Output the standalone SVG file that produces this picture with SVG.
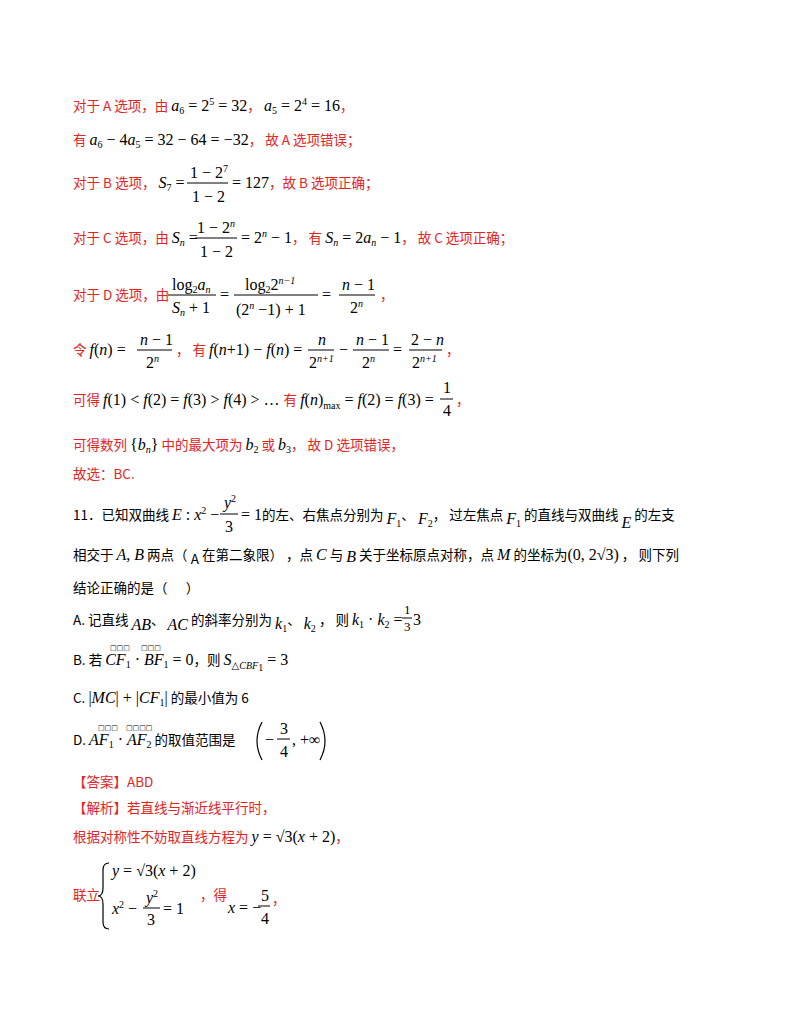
<svg xmlns="http://www.w3.org/2000/svg" width="800" height="1035" viewBox="0 0 800 1035">
<style>
text{font-family:"Liberation Serif","Times New Roman","DejaVu Serif",serif;font-size:16px;fill:#000}
.r{fill:#e5231f}
.c{font-family:"Noto Sans CJK SC","Liberation Sans",sans-serif;font-size:13.5px}
.i{font-style:italic}
.s{font-size:10px}
.k{fill:#000}
.bx{font-size:7px;font-family:"DejaVu Sans",sans-serif}
line{stroke:#000;stroke-width:1}
.dl{fill:none;stroke:#000;stroke-width:1.2}
</style>
<rect width="800" height="1035" fill="#fff"/>
<g id="solution" class="r">
<text x="73" y="111"><tspan class="c r">对于 A 选项，由 </tspan><tspan class="i k">a</tspan><tspan class="s k" dy="3">6</tspan><tspan class="k" dy="-3"> = 2</tspan><tspan class="s k" dy="-6">5</tspan><tspan class="k" dy="6"> = 32</tspan><tspan class="c r">， </tspan><tspan class="i k">a</tspan><tspan class="s k" dy="3">5</tspan><tspan class="k" dy="-3"> = 2</tspan><tspan class="s k" dy="-6">4</tspan><tspan class="k" dy="6"> = 16</tspan><tspan class="c r">，</tspan></text>
<text x="73" y="145"><tspan class="c r">有 </tspan><tspan class="i k">a</tspan><tspan class="s k" dy="3">6</tspan><tspan class="k" dy="-3"> − 4</tspan><tspan class="i k">a</tspan><tspan class="s k" dy="3">5</tspan><tspan class="k" dy="-3"> = 32 − 64 = −32</tspan><tspan class="c r">， 故 A 选项错误；</tspan></text>
<text x="73" y="188"><tspan class="c r">对于 B 选项， </tspan><tspan class="i k">S</tspan><tspan class="s k" dy="3">7</tspan><tspan class="k" dy="-3"> =</tspan></text>
<text x="190" y="178" class="k">1 − 2<tspan class="s" dy="-6">7</tspan></text>
<line x1="187" y1="183" x2="228" y2="183"/>
<text x="192" y="202" class="k">1 − 2</text>
<text x="232" y="188"><tspan class="k">= 127</tspan><tspan class="c r">，故 B 选项正确；</tspan></text>
<text x="73" y="243"><tspan class="c r">对于 C 选项，由 </tspan><tspan class="i k">S</tspan><tspan class="s k i" dy="3">n</tspan><tspan class="k" dy="-3"> =</tspan></text>
<text x="197" y="233" class="k">1 − 2<tspan class="s i" dy="-6">n</tspan></text>
<line x1="195" y1="238" x2="237" y2="238"/>
<text x="200" y="257" class="k">1 − 2</text>
<text x="241" y="243"><tspan class="k">= 2</tspan><tspan class="s k i" dy="-6">n</tspan><tspan class="k" dy="6"> − 1</tspan><tspan class="c r">， 有 </tspan><tspan class="i k">S</tspan><tspan class="s k i" dy="3">n</tspan><tspan class="k" dy="-3"> = 2</tspan><tspan class="i k">a</tspan><tspan class="s k i" dy="3">n</tspan><tspan class="k" dy="-3"> − 1</tspan><tspan class="c r">， 故 C 选项正确；</tspan></text>
<text x="73" y="300"><tspan class="c r">对于 D 选项，由</tspan></text>
<text x="172" y="290" class="k">log<tspan class="s" dy="3">2</tspan><tspan class="i" dy="-3">a</tspan><tspan class="s i" dy="3">n</tspan></text>
<line x1="168" y1="295" x2="216" y2="295"/>
<text x="172" y="313" class="k"><tspan class="i">S</tspan><tspan class="s i" dy="3">n</tspan><tspan dy="-3"> + 1</tspan></text>
<text x="220" y="300" class="k">=</text>
<text x="245" y="290" class="k">log<tspan class="s" dy="3">2</tspan><tspan dy="-3">2</tspan><tspan class="s i" dy="-6">n−1</tspan></text>
<line x1="234" y1="295" x2="318" y2="295"/>
<text x="236" y="315" class="k">(2<tspan class="s i" dy="-6">n</tspan><tspan dy="6"> −1) + 1</tspan></text>
<text x="322" y="300" class="k">=</text>
<text x="342" y="290" class="k"><tspan class="i">n</tspan> − 1</text>
<line x1="339" y1="295" x2="375" y2="295"/>
<text x="350" y="313" class="k">2<tspan class="s i" dy="-6">n</tspan></text>
<text x="380" y="300" class="c r">，</text>
<text x="73" y="355"><tspan class="c r">令 </tspan><tspan class="i k">f</tspan><tspan class="k">(</tspan><tspan class="i k">n</tspan><tspan class="k">) =</tspan></text>
<text x="140" y="345" class="k"><tspan class="i">n</tspan> − 1</text>
<line x1="137" y1="350" x2="172" y2="350"/>
<text x="146" y="368" class="k">2<tspan class="s i" dy="-6">n</tspan></text>
<text x="176" y="355"><tspan class="c r">， 有 </tspan><tspan class="i k">f</tspan><tspan class="k">(</tspan><tspan class="i k">n</tspan><tspan class="k">+1) − </tspan><tspan class="i k">f</tspan><tspan class="k">(</tspan><tspan class="i k">n</tspan><tspan class="k">) =</tspan></text>
<text x="318" y="345" class="k i">n</text>
<line x1="308" y1="350" x2="334" y2="350"/>
<text x="309" y="368" class="k">2<tspan class="s i" dy="-6">n+1</tspan></text>
<text x="339" y="355" class="k">−</text>
<text x="356" y="345" class="k"><tspan class="i">n</tspan> − 1</text>
<line x1="353" y1="350" x2="389" y2="350"/>
<text x="362" y="368" class="k">2<tspan class="s i" dy="-6">n</tspan></text>
<text x="393" y="355" class="k">=</text>
<text x="411" y="345" class="k">2 − <tspan class="i">n</tspan></text>
<line x1="409" y1="350" x2="442" y2="350"/>
<text x="412" y="368" class="k">2<tspan class="s i" dy="-6">n+1</tspan></text>
<text x="446" y="355" class="c r">，</text>
<text x="73" y="405"><tspan class="c r">可得 </tspan><tspan class="i k">f</tspan><tspan class="k">(1) &lt; </tspan><tspan class="i k">f</tspan><tspan class="k">(2) = </tspan><tspan class="i k">f</tspan><tspan class="k">(3) &gt; </tspan><tspan class="i k">f</tspan><tspan class="k">(4) &gt; … </tspan><tspan class="c r">有 </tspan><tspan class="i k">f</tspan><tspan class="k">(</tspan><tspan class="i k">n</tspan><tspan class="k">)</tspan><tspan class="s k" dy="4">max</tspan><tspan class="k" dy="-4"> = </tspan><tspan class="i k">f</tspan><tspan class="k">(2) = </tspan><tspan class="i k">f</tspan><tspan class="k">(3) =</tspan></text>
<text x="443" y="393" class="k">1</text>
<line x1="440" y1="399" x2="453" y2="399"/>
<text x="443" y="416" class="k">4</text>
<text x="456" y="405" class="c r">，</text>
<text x="73" y="450"><tspan class="c r">可得数列 </tspan><tspan class="k">{</tspan><tspan class="i k">b</tspan><tspan class="s k i" dy="3">n</tspan><tspan class="k" dy="-3">}</tspan><tspan class="c r"> 中的最大项为 </tspan><tspan class="i k">b</tspan><tspan class="s k" dy="3">2</tspan><tspan class="c r" dy="-3"> 或 </tspan><tspan class="i k">b</tspan><tspan class="s k" dy="3">3</tspan><tspan class="c r" dy="-3">， 故 D 选项错误，</tspan></text>
<text x="73" y="479" class="c r">故选：BC.</text>
</g>
<g id="question">
<text x="73" y="520"><tspan class="c">11．已知双曲线 </tspan><tspan class="i">E</tspan><tspan> : </tspan><tspan class="i">x</tspan><tspan class="s" dy="-6">2</tspan><tspan dy="6"> −</tspan></text>
<text x="224" y="508"><tspan class="i">y</tspan><tspan class="s" dy="-6">2</tspan></text>
<line x1="220" y1="514" x2="238" y2="514"/>
<text x="225" y="532">3</text>
<text x="241" y="520"><tspan>= 1</tspan><tspan class="c">的左、右焦点分别为 </tspan><tspan class="i" dy="4">F</tspan><tspan class="s" dy="3">1</tspan><tspan class="c" dy="-7">、 </tspan><tspan class="i" dy="4">F</tspan><tspan class="s" dy="3">2</tspan><tspan class="c" dy="-7">， 过左焦点 </tspan><tspan class="i" dy="4">F</tspan><tspan class="s" dy="3">1</tspan><tspan class="c" dy="-7"> 的直线与双曲线 </tspan><tspan class="i" dy="8">E</tspan><tspan class="c" dy="-8"> 的左支</tspan></text>
<text x="73" y="560"><tspan class="c">相交于 </tspan><tspan class="i">A</tspan><tspan>, </tspan><tspan class="i">B</tspan><tspan class="c"> 两点（ </tspan><tspan class="c" dy="4">A</tspan><tspan class="c" dy="-4"> 在第二象限） ，点 </tspan><tspan class="i">C</tspan><tspan class="c"> 与 </tspan><tspan class="i" dy="2">B</tspan><tspan class="c" dy="-2"> 关于坐标原点对称，点 </tspan><tspan class="i">M</tspan><tspan class="c"> 的坐标为</tspan><tspan>(0, 2√3)</tspan><tspan class="c"> ， 则下列</tspan></text>
<text x="73" y="593" class="c">结论正确的是（&#160;&#160;&#160;&#160;&#160;&#160;）</text>
<text x="73" y="625"><tspan class="c">A.   记直线 </tspan><tspan class="i" dy="5">AB</tspan><tspan class="c" dy="-5">、 </tspan><tspan class="i" dy="5">AC</tspan><tspan class="c" dy="-5"> 的斜率分别为 </tspan><tspan class="i" dy="4">k</tspan><tspan class="s" dy="3">1</tspan><tspan class="c" dy="-7">、 </tspan><tspan class="i" dy="4">k</tspan><tspan class="s" dy="3">2</tspan><tspan class="c" dy="-7"> ， 则 </tspan><tspan class="i">k</tspan><tspan class="s" dy="3">1</tspan><tspan dy="-3"> · </tspan><tspan class="i">k</tspan><tspan class="s" dy="3">2</tspan><tspan dy="-3"> =</tspan></text>
<text x="404" y="614" style="font-size:13px">1</text>
<line x1="402" y1="618" x2="412" y2="618"/>
<text x="404" y="631" style="font-size:13px">3</text>
<text x="413" y="625">3</text>
<text x="73" y="665"><tspan class="c">B.   若 </tspan><tspan class="i">CF</tspan><tspan class="s" dy="3">1</tspan><tspan dy="-3"> · </tspan><tspan class="i">BF</tspan><tspan class="s" dy="3">1</tspan><tspan dy="-3"> = 0</tspan><tspan class="c">，则 </tspan><tspan class="i">S</tspan><tspan class="s" dy="4">△</tspan><tspan class="s i">CBF</tspan><tspan class="s" dy="2">1</tspan><tspan dy="-6"> = 3</tspan></text>
<text x="110" y="650" class="bx">□□□</text><text x="141" y="650" class="bx">□□□</text>
<text x="73" y="703"><tspan class="c">C.   </tspan><tspan>|</tspan><tspan class="i">MC</tspan><tspan>| + |</tspan><tspan class="i">CF</tspan><tspan class="s" dy="3">1</tspan><tspan dy="-3">|</tspan><tspan class="c"> 的最小值为 6</tspan></text>
<text x="73" y="745"><tspan class="c">D.   </tspan><tspan class="i">AF</tspan><tspan class="s" dy="3">1</tspan><tspan dy="-3"> · </tspan><tspan class="i">AF</tspan><tspan class="s" dy="3">2</tspan><tspan class="c" dy="-3"> 的取值范围是</tspan></text>
<text x="98" y="730" class="bx">□□□</text><text x="126" y="730" class="bx">□□□□</text>
<path class="dl" d="M262,722 Q252,741 262,760"/>
<text x="265" y="745">−</text>
<text x="280" y="734">3</text>
<line x1="277" y1="739" x2="290" y2="739"/>
<text x="280" y="757">4</text>
<text x="292" y="745">, +∞</text>
<path class="dl" d="M320,722 Q330,741 320,760"/>
</g>
<g id="answer" class="r">
<text x="73" y="787" class="c r">【答案】ABD</text>
<text x="73" y="813" class="c r">【解析】若直线与渐近线平行时，</text>
<text x="73" y="842"><tspan class="c r">根据对称性不妨取直线方程为 </tspan><tspan class="i k">y</tspan><tspan class="k"> = √3(</tspan><tspan class="i k">x</tspan><tspan class="k"> + 2)</tspan><tspan class="c r">，</tspan></text>
<text x="73" y="900" class="c r">联立</text>
<path class="dl" d="M109,863 Q103,863 103,870 L103,888 Q103,896 98,896 Q103,896 103,904 L103,922 Q103,929 109,929"/>
<text x="112" y="876" class="k"><tspan class="i">y</tspan> = √3(<tspan class="i">x</tspan> + 2)</text>
<text x="112" y="914" class="k"><tspan class="i">x</tspan><tspan class="s" dy="-6">2</tspan><tspan dy="6"> −</tspan></text>
<text x="146" y="903" class="k"><tspan class="i">y</tspan><tspan class="s" dy="-6">2</tspan></text>
<line x1="143" y1="908" x2="160" y2="908"/>
<text x="147" y="925" class="k">3</text>
<text x="163" y="914" class="k">= 1</text>
<text x="200" y="900" class="c r">，得</text>
<text x="228" y="913"><tspan class="i k">x</tspan><tspan class="k"> = −</tspan></text>
<text x="261" y="901" class="k">5</text>
<line x1="258" y1="906" x2="270" y2="906"/>
<text x="261" y="924" class="k">4</text>
<text x="272" y="904" class="c r">，</text>
</g>
</svg>
